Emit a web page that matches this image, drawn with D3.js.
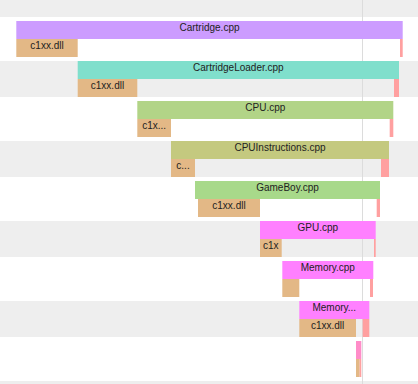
<!DOCTYPE html>
<html>
<head>
<meta charset="utf-8">
<script src="https://cdn.jsdelivr.net/npm/d3@7"></script>
<style>
  body { margin: 0; background: #fff; }
  svg text { font-family: Arial, "Liberation Sans", sans-serif; font-size: 10px; fill: #222; }
</style>
</head>
<body>
<svg id="chart" width="418" height="384"></svg>
<script>
// compile timeline, times in seconds
const files = ["Cartridge.cpp", "CartridgeLoader.cpp", "CPU.cpp", "CPUInstructions.cpp",
    "GameBoy.cpp", "GPU.cpp", "Memory.cpp", "MemoryBankController.cpp", "main.cpp"];
const fileStart = [0, 0.614, 1.21, 1.547, 1.787, 2.437, 2.66, 2.83, 3.397];
const fileEnd = [3.864, 3.827, 3.77, 3.727, 3.637, 3.594, 3.57, 3.53, 3.45];
const fileColors = ["#cc9cff", "#80dfcc", "#b2d487", "#c4c97f", "#a8d98a",
    "#ff80ff", "#ff80ff", "#ff80ff", "#ff8cc8"];

const frontName = "c1xx.dll";
const frontStart = [0, 0.614, 1.21, 1.547, 1.817, 2.437, 2.66, 2.83, 3.397];
const frontEnd = [0.614, 1.21, 1.547, 1.787, 2.437, 2.654, 2.83, 3.397, 3.434];

const backName = "c2.dll";
const backStart = [3.837, 3.777, 3.734, 3.647, 3.604, 3.577, 3.537, 3.464, 3.434];
const backEnd = [3.864, 3.827, 3.77, 3.727, 3.637, 3.594, 3.567, 3.53, 3.45];

const cursorTime = 3.46;

const svg = d3.select("#chart"),
    width = +svg.attr("width"),
    height = +svg.attr("height");

const x = d3.scaleLinear()
    .domain([0, 4.017])
    .range([16.3, width]);

// one band per row, plus a leading one for the top stripe
const rows = d3.range(-1, 10);
const y = d3.scaleBand()
    .domain(rows)
    .range([-21, 419])
    .paddingInner(0.1)
    .paddingOuter(0.05);
const half = y.bandwidth() / 2;

svg.append("g")
    .selectAll("rect")
    .data(rows.filter(function (r) { return Math.abs(r % 2) === 1; }))
    .enter().append("rect")
    .attr("x", 0)
    .attr("y", function (r) { return y(r); })
    .attr("width", width)
    .attr("height", y.bandwidth())
    .attr("fill", "#eeeeee");

svg.append("line")
    .attr("x1", Math.round(x(cursorTime)) + 0.5)
    .attr("x2", Math.round(x(cursorTime)) + 0.5)
    .attr("y1", 0)
    .attr("y2", height)
    .attr("stroke", "#dcdcdc");

const items = [];
files.forEach(function (name, i) {
    items.push({row: i, top: 0, name: name, t0: fileStart[i], t1: fileEnd[i], color: fileColors[i]});
    items.push({row: i, top: 1, name: frontName, t0: frontStart[i], t1: frontEnd[i], color: "#e3b886"});
    items.push({row: i, top: 1, name: backName, t0: backStart[i], t1: backEnd[i], color: "#ffa0a0"});
});

const measure = svg.append("text").attr("visibility", "hidden");
function textWidth(s) {
    measure.text(s);
    return measure.node().getComputedTextLength();
}

// shorten a label to fit its bar
function fit(label, w) {
    const room = w - 3;
    if (textWidth(label) <= room) return label;
    let n = 0;
    while (n < label.length && textWidth(label.slice(0, n + 1)) <= room) n++;
    if (n < 3) return "";
    if (n === 3) return label.slice(0, 3);
    let prefix = label.slice(0, n - 3);
    for (let j = prefix.length - 1; j > 0; j--) {
        if (/[A-Z]/.test(prefix[j]) && /[a-z]/.test(prefix[j - 1])) {
            prefix = prefix.slice(0, j);
            break;
        }
    }
    return prefix + "...";
}

const node = svg.append("g")
    .selectAll("g")
    .data(items)
    .enter().append("g")
    .attr("transform", function (d) {
        return "translate(" + x(d.t0) + "," + (y(d.row) + d.top * half) + ")";
    });

node.append("rect")
    .attr("width", function (d) { return x(d.t1) - x(d.t0); })
    .attr("height", half)
    .attr("fill", function (d) { return d.color; });

node.append("text")
    .attr("x", function (d) { return (x(d.t1) - x(d.t0)) / 2; })
    .attr("y", 10)
    .attr("text-anchor", "middle")
    .text(function (d) { return fit(d.name, x(d.t1) - x(d.t0)); });

node.append("title")
    .text(function (d) { return d.name + " " + d3.format(".3f")(d.t1 - d.t0) + "s"; });

measure.remove();
</script>
</body>
</html>
